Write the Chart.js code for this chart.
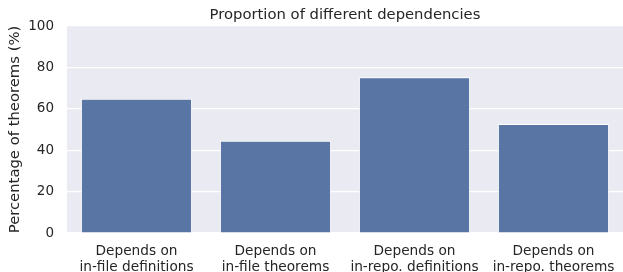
<!DOCTYPE html>
<html>
<head>
<meta charset="utf-8">
<script src="https://cdn.jsdelivr.net/npm/chart.js@4/dist/chart.umd.min.js"></script>
<style>
  body { margin: 0; background: #fff; }
  canvas { display: block; }
</style>
</head>
<body>
<canvas id="chart" width="623" height="272"></canvas>
<script>
const categories = [
  ["Depends on", "in-file definitions"],
  ["Depends on", "in-file theorems"],
  ["Depends on", "in-repo. definitions"],
  ["Depends on", "in-repo. theorems"]
];
const percentages = [64.8, 44.6, 75.2, 52.7];
const yTicks = [0, 20, 40, 60, 80, 100];

const TEXT = "#262626";
const FONT = "'DejaVu Sans', sans-serif";

// title centred over the plot area, like matplotlib's ax.set_title
const plotTitle = {
  id: "plotTitle",
  afterDraw(chart) {
    const { ctx, chartArea } = chart;
    ctx.save();
    ctx.font = "14.8px " + FONT;
    ctx.fillStyle = TEXT;
    ctx.textAlign = "center";
    ctx.textBaseline = "alphabetic";
    ctx.fillText("Proportion of different dependencies", (chartArea.left + chartArea.right) / 2, 19);
    ctx.restore();
  }
};

// seaborn darkgrid background
const plotBg = {
  id: "plotBg",
  beforeDraw(chart) {
    const { ctx, chartArea } = chart;
    ctx.save();
    ctx.fillStyle = "#EAEAF2";
    ctx.fillRect(chartArea.left, chartArea.top, chartArea.right - chartArea.left, chartArea.bottom - chartArea.top);
    ctx.restore();
  }
};

new Chart(document.getElementById("chart"), {
  type: "bar",
  data: {
    labels: categories,
    datasets: [
      {
        data: percentages,
        backgroundColor: "#5975A4",
        borderColor: "#ffffff",
        borderWidth: 1,
        barPercentage: 0.8,
        categoryPercentage: 1.0
      }
    ]
  },
  options: {
    responsive: false,
    animation: false,
    layout: { padding: { top: 26, right: -1, left: 0, bottom: 0 } },
    plugins: {
      legend: { display: false },
      title: { display: false },
      tooltip: { enabled: false }
    },
    scales: {
      x: {
        grid: { display: false, drawTicks: false },
        border: { display: false },
        ticks: {
          color: TEXT,
          font: { family: FONT, size: 13.7, lineHeight: 1.12 },
          padding: 11,
          maxRotation: 0,
          autoSkip: false
        },
        afterFit(scale) {
          scale.height = 39;
          scale.paddingLeft = 0;
          scale.paddingRight = 0;
        }
      },
      y: {
        min: 0,
        max: 100,
        afterBuildTicks(scale) {
          scale.ticks = yTicks.map((v) => ({ value: v }));
        },
        grid: { color: "#ffffff", lineWidth: 1.2, drawTicks: false },
        border: { display: false },
        ticks: {
          color: TEXT,
          font: { family: FONT, size: 13.5 },
          padding: 13
        },
        title: {
          display: true,
          text: "Percentage of theorems (%)",
          color: TEXT,
          font: { family: FONT, size: 14.8 },
          padding: { top: 6, bottom: 0 }
        },
        afterFit(scale) {
          scale.width = 67;
          scale.paddingTop = 0;
          scale.paddingBottom = 0;
        }
      }
    }
  },
  plugins: [plotBg, plotTitle]
});
</script>
</body>
</html>
